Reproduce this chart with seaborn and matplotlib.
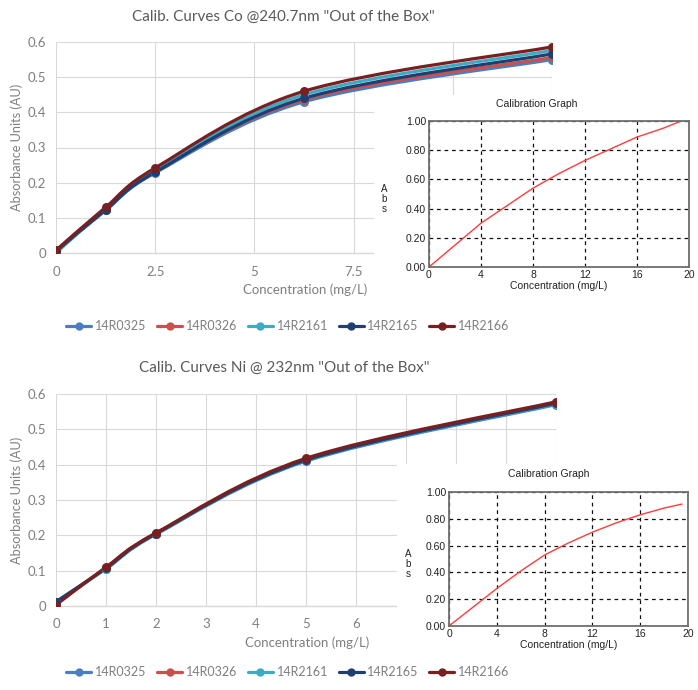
import numpy as np
import pandas as pd
import matplotlib
matplotlib.use("Agg")
import matplotlib.pyplot as plt
from matplotlib.path import Path
from matplotlib.patches import PathPatch, Rectangle
from matplotlib.lines import Line2D
import seaborn as sns

# ---------------- data ----------------
series_names = ["14R0325", "14R0326", "14R2161", "14R2165", "14R2166"]
series_colors = ["#4A7EC1", "#C9504C", "#3FAAC4", "#1F3F73", "#7A1F1F"]

co_x = [0, 1.25, 2.5, 6.25, 12.5]
co_14R0325 = [0.005, 0.121, 0.228, 0.430, 0.550]
co_14R0326 = [0.005, 0.124, 0.232, 0.436, 0.556]
co_14R2161 = [0.000, 0.126, 0.236, 0.450, 0.576]
co_14R2165 = [0.005, 0.123, 0.230, 0.440, 0.566]
co_14R2166 = [0.008, 0.130, 0.242, 0.460, 0.586]

ni_x = [0, 1, 2, 5, 10]
ni_14R0325 = [0.012, 0.105, 0.203, 0.410, 0.570]
ni_14R0326 = [0.005, 0.108, 0.205, 0.414, 0.574]
ni_14R2161 = [0.008, 0.106, 0.204, 0.412, 0.572]
ni_14R2165 = [0.012, 0.107, 0.205, 0.413, 0.574]
ni_14R2166 = [0.003, 0.110, 0.207, 0.418, 0.578]

co_xticks = [0, 2.5, 5, 7.5]
co_xtick_labels = ["0", "2.5", "5", "7.5"]
ni_xticks = [0, 1, 2, 3, 4, 5, 6]
main_yticks = [0, 0.1, 0.2, 0.3, 0.4, 0.5, 0.6]
main_ytick_labels = ["0", "0.1", "0.2", "0.3", "0.4", "0.5", "0.6"]

# inset "Calibration Graph" curves
inset_co_x = [0, 2, 4, 6, 8, 10, 12, 14, 16, 18, 19.4]
inset_co_y = [0, 0.15, 0.30, 0.42, 0.54, 0.64, 0.73, 0.81, 0.89, 0.95, 1.00]
inset_ni_x = [0, 2, 4, 6, 8, 10, 12, 14, 16, 18, 19.5]
inset_ni_y = [0, 0.14, 0.28, 0.41, 0.53, 0.62, 0.70, 0.77, 0.83, 0.88, 0.91]
inset_xticks = [0, 4, 8, 12, 16, 20]
inset_yticks = [0.0, 0.2, 0.4, 0.6, 0.8, 1.0]

co_df = pd.DataFrame({"x": co_x * 5,
                      "y": co_14R0325 + co_14R0326 + co_14R2161 + co_14R2165 + co_14R2166,
                      "series": np.repeat(series_names, len(co_x))})
ni_df = pd.DataFrame({"x": ni_x * 5,
                      "y": ni_14R0325 + ni_14R0326 + ni_14R2161 + ni_14R2165 + ni_14R2166,
                      "series": np.repeat(series_names, len(ni_x))})

# ---------------- style ----------------
sns.set_style("white")
MAIN_FONT = ["Lato", "DejaVu Sans"]
INSET_FONT = ["Liberation Sans Narrow", "Liberation Sans", "DejaVu Sans"]
plt.rcParams["font.family"] = MAIN_FONT
TITLE_GRAY = "#595959"
GRAY = "#7F7F7F"
GRID = "#D9D9D9"

W, H = 698, 690
fig = plt.figure(figsize=(W / 100, H / 100), dpi=100)
fig.patch.set_facecolor("white")


def fx(px):
    return px / W


def fy(py):
    return 1 - py / H


def smooth_path(xs, ys):
    # Excel-style smoothed line rendered as cubic Bezier through the data points
    P = np.column_stack([xs, ys]).astype(float)
    n = len(P)
    verts = [P[0]]
    codes = [Path.MOVETO]
    for i in range(n - 1):
        p_prev = P[i - 1] if i > 0 else P[i]
        p_next2 = P[i + 2] if i + 2 < n else P[i + 1]
        c1 = P[i] + (P[i + 1] - p_prev) / 6
        c2 = P[i + 1] - (p_next2 - P[i]) / 6
        verts += [c1, c2, P[i + 1]]
        codes += [Path.CURVE4] * 3
    return Path(verts, codes)


def main_chart(rect, df, xmax, xgrid, xticklabels, title, title_xy, legend_y):
    ax = fig.add_axes(rect)
    for name, color in zip(series_names, series_colors):
        sub = df[df["series"] == name]
        patch = PathPatch(smooth_path(sub["x"].values, sub["y"].values),
                          facecolor="none", edgecolor=color, lw=2.3,
                          capstyle="round", joinstyle="round")
        ax.add_patch(patch)
        sns.scatterplot(data=sub, x="x", y="y", ax=ax, color=color, s=42,
                        edgecolor=color, linewidth=0, legend=False, zorder=3)
    ax.set_xlim(0, xmax)
    ax.set_ylim(0, 0.6)
    ax.set_xticks(xgrid)
    ax.set_xticklabels([xticklabels.get(v, "") for v in xgrid])
    ax.set_yticks(main_yticks)
    ax.set_yticklabels(main_ytick_labels)
    ax.grid(True, color=GRID, lw=0.8)
    ax.set_axisbelow(True)
    for s in ["top", "right", "left"]:
        ax.spines[s].set_visible(False)
    ax.spines["bottom"].set_color(GRID)
    ax.spines["bottom"].set_linewidth(1)
    ax.tick_params(axis="both", length=0, labelsize=9.5, labelcolor=GRAY)
    ax.tick_params(axis="y", pad=7)
    ax.tick_params(axis="x", pad=9)
    ax.set_xlabel("Concentration (mg/L)", fontsize=9.5, color=GRAY, va="center")
    ax.xaxis.set_label_coords(0.502, -0.175)
    ax.set_ylabel("Absorbance Units (AU)", fontsize=9.2, color=GRAY, va="center")
    ax.yaxis.set_label_coords(-0.079, 0.5)
    fig.text(fx(title_xy[0]), fy(title_xy[1]), title, ha="center", va="center",
             fontsize=11, color=TITLE_GRAY)
    handles = [Line2D([0], [0], color=c, lw=2.3, marker="o", markersize=5)
               for c in series_colors]
    fig.legend(handles, series_names, loc="center", bbox_to_anchor=(fx(288), fy(legend_y)),
               ncol=5, frameon=False, fontsize=9, labelcolor=GRAY,
               handlelength=2.0, handletextpad=0.3, columnspacing=0.85)
    return ax


def inset(cover, rect, xs, ys, title_xy, abs_xy):
    # white pasted-screenshot background
    fig.add_artist(Rectangle((fx(cover[0]), fy(cover[3])), fx(cover[2] - cover[0]),
                             (cover[3] - cover[1]) / H, transform=fig.transFigure,
                             facecolor="white", edgecolor="none", zorder=2))
    ax = fig.add_axes(rect)
    ax.set_zorder(3)
    sns.lineplot(x=xs, y=ys, ax=ax, color="#FF3B3B", lw=1.0)
    ax.set_xlim(0, 20)
    ax.set_ylim(0, 1)
    ax.set_xticks(inset_xticks)
    ax.set_yticks(inset_yticks)
    ax.set_xticklabels([str(v) for v in inset_xticks], family=INSET_FONT)
    ax.set_yticklabels([f"{v:.2f}" for v in inset_yticks], family=INSET_FONT)
    ax.tick_params(axis="both", length=0, labelsize=7.5, labelcolor="#222222", pad=2)
    ax.grid(True, color="#111111", lw=0.9, ls=(0, (3, 3)))
    for s in ax.spines.values():
        s.set_color("#6E6E6E")
        s.set_linewidth(1.3)
    ax.set_xlabel("Concentration (mg/L)", fontsize=7.5, family=INSET_FONT, color="#222222",
                  labelpad=1)
    fig.text(fx(title_xy[0]), fy(title_xy[1]), "Calibration Graph", ha="center", va="center",
             fontsize=7.5, family=INSET_FONT, color="#222222", zorder=4)
    fig.text(fx(abs_xy[0]), fy(abs_xy[1]), "A\nb\ns", ha="center", va="center",
             fontsize=7, family=INSET_FONT, color="#222222", linespacing=1.0, zorder=4)
    return ax


# ---------------- top: Co ----------------
ax_co = main_chart([fx(56), fy(253), (552 - 56) / W, (253 - 42) / H], co_df, 12.5,
                   [0, 2.5, 5, 7.5, 10, 12.5],
                   dict(zip(co_xticks, co_xtick_labels)),
                   'Calib. Curves Co @240.7nm "Out of the Box"', (283, 17), 326)
inset((374, 95, 698, 305), [fx(429), fy(267), (689 - 429) / W, (267 - 121) / H],
      inset_co_x, inset_co_y, (537, 104), (384, 199))

# ---------------- bottom: Ni ----------------
ax_ni = main_chart([fx(56), fy(606), (556 - 56) / W, (606 - 394) / H], ni_df, 10,
                   list(range(0, 11)),
                   {v: str(v) for v in ni_xticks},
                   'Calib. Curves Ni @ 232nm "Out of the Box"', (284, 368), 672)
inset((397, 464, 698, 658), [fx(449), fy(626), (688 - 449) / W, (626 - 492) / H],
      inset_ni_x, inset_ni_y, (549, 474), (408, 564))

fig.savefig("out.png", dpi=100, facecolor="white")
